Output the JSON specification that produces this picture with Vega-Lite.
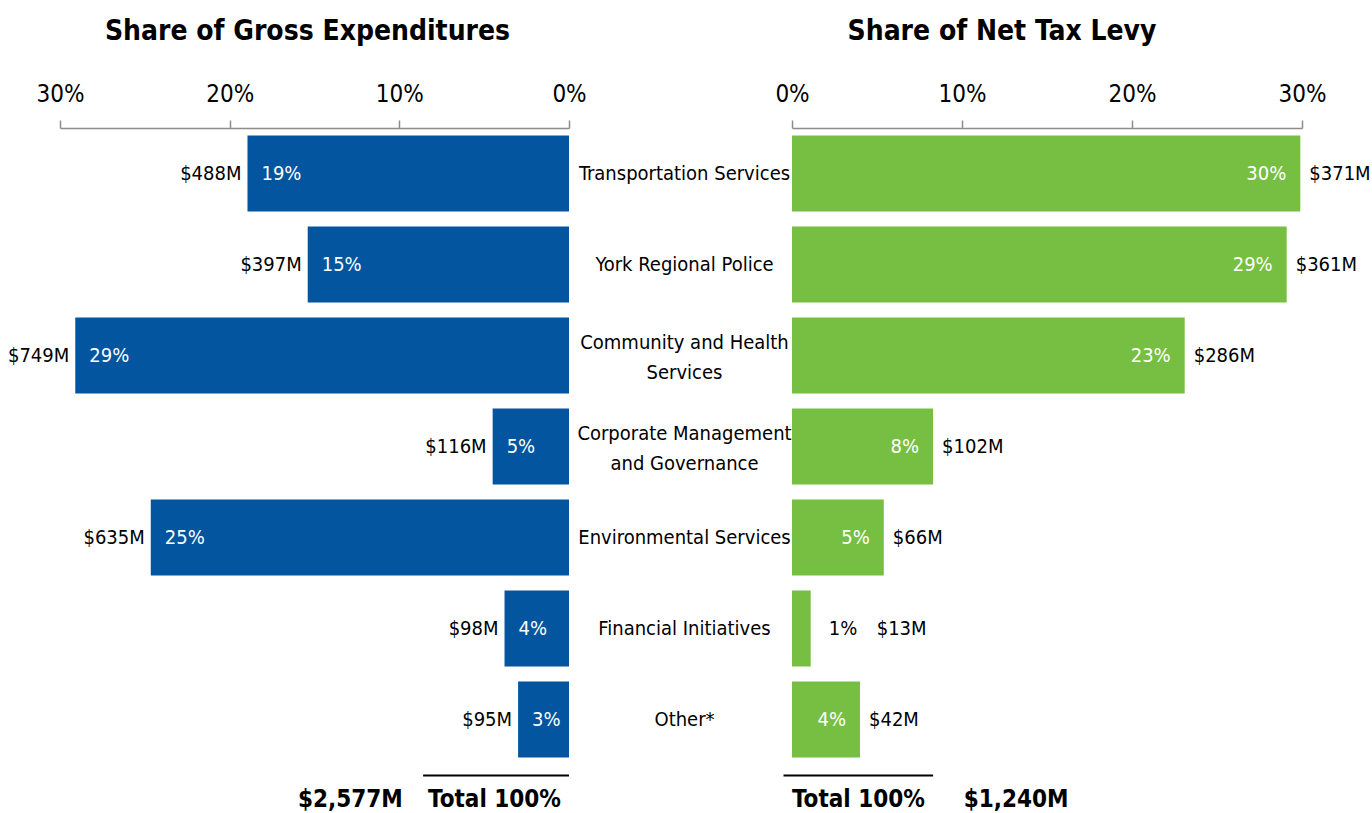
{
  "$schema": "https://vega.github.io/schema/vega-lite/v6.json",
  "padding": {"left": 7, "right": 0, "top": 18, "bottom": 0},
  "bounds": "flush",
  "spacing": 0,
  "config": {
    "font": "DejaVu Sans Condensed, DejaVu Sans, sans-serif",
    "view": {"stroke": null},
    "concat": {"spacing": 0},
    "title": {"fontSize": 28, "fontWeight": "bold", "color": "black", "offset": 36, "anchor": "middle", "font": "DejaVu Sans Condensed, DejaVu Sans, sans-serif"},
    "axis": {"labelFont": "DejaVu Sans Condensed, DejaVu Sans, sans-serif", "labelFontSize": 24, "labelColor": "black", "domainColor": "#8c8c8c", "tickColor": "#8c8c8c", "tickSize": 8, "domainWidth": 1.5, "tickWidth": 1.5, "labelPadding": 14, "grid": false, "labelFlush": false}
  },
  "datasets": {
    "rows": [
      {"cat": "Transportation Services", "label": "Transportation Services", "gross_share": 18.95, "gross_pct": "19%", "gross_lbl": "$488M", "net_share": 29.9, "net_pct": "30%", "net_lbl": "$371M"},
      {"cat": "York Regional Police", "label": "York Regional Police", "gross_share": 15.4, "gross_pct": "15%", "gross_lbl": "$397M", "net_share": 29.1, "net_pct": "29%", "net_lbl": "$361M"},
      {"cat": "Community and Health Services", "label": "Community and Health\nServices", "gross_share": 29.1, "gross_pct": "29%", "gross_lbl": "$749M", "net_share": 23.1, "net_pct": "23%", "net_lbl": "$286M"},
      {"cat": "Corporate Management and Governance", "label": "Corporate Management\nand Governance", "gross_share": 4.5, "gross_pct": "5%", "gross_lbl": "$116M", "net_share": 8.3, "net_pct": "8%", "net_lbl": "$102M"},
      {"cat": "Environmental Services", "label": "Environmental Services", "gross_share": 24.65, "gross_pct": "25%", "gross_lbl": "$635M", "net_share": 5.4, "net_pct": "5%", "net_lbl": "$66M"},
      {"cat": "Financial Initiatives", "label": "Financial Initiatives", "gross_share": 3.8, "gross_pct": "4%", "gross_lbl": "$98M", "net_share": 1.1, "net_pct": "1%", "net_lbl": "$13M"},
      {"cat": "Other*", "label": "Other*", "gross_share": 3.0, "gross_pct": "3%", "gross_lbl": "$95M", "net_share": 4.0, "net_pct": "4%", "net_lbl": "$42M"}
    ],
    "totals": [{"total": "Total 100%", "gross_total": "$2,577M", "net_total": "$1,240M", "last": "Other*"}]
  },
  "hconcat": [
    {
      "width": 509,
      "height": 637,
      "title": {"text": "Share of Gross Expenditures", "dx": -7},
      "layer": [
        {
          "data": {"name": "rows"},
          "mark": {"type": "bar", "color": "#02559e"},
          "encoding": {
            "x": {"field": "gross_share", "type": "quantitative", "title": null, "scale": {"domain": [0, 30], "reverse": true}, "axis": {"orient": "top", "values": [0, 10, 20, 30], "labelExpr": "datum.value + '%'", "title": null}},
            "y": {"field": "cat", "type": "nominal", "axis": null, "scale": {"domain": ["Transportation Services", "York Regional Police", "Community and Health Services", "Corporate Management and Governance", "Environmental Services", "Financial Initiatives", "Other*"], "paddingInner": 0.165, "paddingOuter": 0.0825}}
          }
        },
        {
          "data": {"name": "rows"},
          "mark": {"type": "text", "align": "left", "baseline": "middle", "dx": 14, "color": "white", "fontSize": 20},
          "encoding": {
            "x": {"field": "gross_share", "type": "quantitative", "title": null},
            "y": {"field": "cat", "type": "nominal"},
            "text": {"field": "gross_pct"}
          }
        },
        {
          "data": {"name": "rows"},
          "mark": {"type": "text", "align": "right", "baseline": "middle", "dx": -6, "color": "black", "fontSize": 20},
          "encoding": {
            "x": {"field": "gross_share", "type": "quantitative", "title": null},
            "y": {"field": "cat", "type": "nominal"},
            "text": {"field": "gross_lbl"}
          }
        },
        {
          "data": {"name": "totals"},
          "mark": {"type": "rule", "color": "black", "strokeWidth": 2, "yOffset": 56},
          "encoding": {
            "x": {"datum": 8.6, "type": "quantitative", "title": null},
            "x2": {"datum": 0},
            "y": {"field": "last", "type": "nominal"}
          }
        },
        {
          "data": {"name": "totals"},
          "mark": {"type": "text", "align": "right", "baseline": "middle", "dx": -8, "yOffset": 80, "fontSize": 24, "fontWeight": "bold", "color": "black"},
          "encoding": {
            "x": {"datum": 0, "type": "quantitative", "title": null},
            "y": {"field": "last", "type": "nominal"},
            "text": {"field": "total"}
          }
        },
        {
          "data": {"name": "totals"},
          "mark": {"type": "text", "align": "right", "baseline": "middle", "yOffset": 80, "fontSize": 24, "fontWeight": "bold", "color": "black"},
          "encoding": {
            "x": {"datum": 9.8, "type": "quantitative", "title": null},
            "y": {"field": "last", "type": "nominal"},
            "text": {"field": "gross_total"}
          }
        }
      ]
    },
    {
      "width": 223,
      "height": 637,
      "data": {"name": "rows"},
      "encoding": {
        "y": {"field": "cat", "type": "nominal", "axis": null, "scale": {"domain": ["Transportation Services", "York Regional Police", "Community and Health Services", "Corporate Management and Governance", "Environmental Services", "Financial Initiatives", "Other*"], "paddingInner": 0.165, "paddingOuter": 0.0825}},
        "text": {"field": "label"}
      },
      "layer": [
        {
          "transform": [{"filter": "indexof(datum.label, '\\n') < 0"}],
          "mark": {"type": "text", "align": "center", "baseline": "middle", "dx": 4, "fontSize": 20, "color": "black"}
        },
        {
          "transform": [{"filter": "indexof(datum.label, '\\n') >= 0"}],
          "mark": {"type": "text", "align": "center", "baseline": "middle", "dx": 4, "fontSize": 20, "lineBreak": "\n", "lineHeight": 30, "dy": -13, "color": "black"}
        }
      ]
    },
    {
      "width": 510,
      "height": 637,
      "title": {"text": "Share of Net Tax Levy", "dx": -45},
      "layer": [
        {
          "data": {"name": "rows"},
          "mark": {"type": "bar", "color": "#76bf43"},
          "encoding": {
            "x": {"field": "net_share", "type": "quantitative", "title": null, "scale": {"domain": [0, 30]}, "axis": {"orient": "top", "values": [0, 10, 20, 30], "labelExpr": "datum.value + '%'", "title": null}},
            "y": {"field": "cat", "type": "nominal", "axis": null, "scale": {"domain": ["Transportation Services", "York Regional Police", "Community and Health Services", "Corporate Management and Governance", "Environmental Services", "Financial Initiatives", "Other*"], "paddingInner": 0.165, "paddingOuter": 0.0825}}
          }
        },
        {
          "data": {"name": "rows"},
          "transform": [{"filter": "datum.net_share >= 2"}],
          "mark": {"type": "text", "align": "right", "baseline": "middle", "dx": -14, "color": "white", "fontSize": 20},
          "encoding": {
            "x": {"field": "net_share", "type": "quantitative", "title": null},
            "y": {"field": "cat", "type": "nominal"},
            "text": {"field": "net_pct"}
          }
        },
        {
          "data": {"name": "rows"},
          "transform": [{"filter": "datum.net_share >= 2"}],
          "mark": {"type": "text", "align": "left", "baseline": "middle", "dx": 9, "color": "black", "fontSize": 20},
          "encoding": {
            "x": {"field": "net_share", "type": "quantitative", "title": null},
            "y": {"field": "cat", "type": "nominal"},
            "text": {"field": "net_lbl"}
          }
        },
        {
          "data": {"name": "rows"},
          "transform": [{"filter": "datum.net_share < 2"}],
          "mark": {"type": "text", "align": "left", "baseline": "middle", "dx": 18, "color": "black", "fontSize": 20},
          "encoding": {
            "x": {"field": "net_share", "type": "quantitative", "title": null},
            "y": {"field": "cat", "type": "nominal"},
            "text": {"field": "net_pct"}
          }
        },
        {
          "data": {"name": "rows"},
          "transform": [{"filter": "datum.net_share < 2"}],
          "mark": {"type": "text", "align": "left", "baseline": "middle", "dx": 66, "color": "black", "fontSize": 20},
          "encoding": {
            "x": {"field": "net_share", "type": "quantitative", "title": null},
            "y": {"field": "cat", "type": "nominal"},
            "text": {"field": "net_lbl"}
          }
        },
        {
          "data": {"name": "totals"},
          "mark": {"type": "rule", "color": "black", "strokeWidth": 2, "yOffset": 56},
          "encoding": {
            "x": {"datum": -0.5, "type": "quantitative", "title": null},
            "x2": {"datum": 8.3},
            "y": {"field": "last", "type": "nominal"}
          }
        },
        {
          "data": {"name": "totals"},
          "mark": {"type": "text", "align": "left", "baseline": "middle", "yOffset": 80, "fontSize": 24, "fontWeight": "bold", "color": "black"},
          "encoding": {
            "x": {"datum": 0, "type": "quantitative", "title": null},
            "y": {"field": "last", "type": "nominal"},
            "text": {"field": "total"}
          }
        },
        {
          "data": {"name": "totals"},
          "mark": {"type": "text", "align": "left", "baseline": "middle", "yOffset": 80, "fontSize": 24, "fontWeight": "bold", "color": "black"},
          "encoding": {
            "x": {"datum": 10.1, "type": "quantitative", "title": null},
            "y": {"field": "last", "type": "nominal"},
            "text": {"field": "net_total"}
          }
        }
      ]
    }
  ]
}
